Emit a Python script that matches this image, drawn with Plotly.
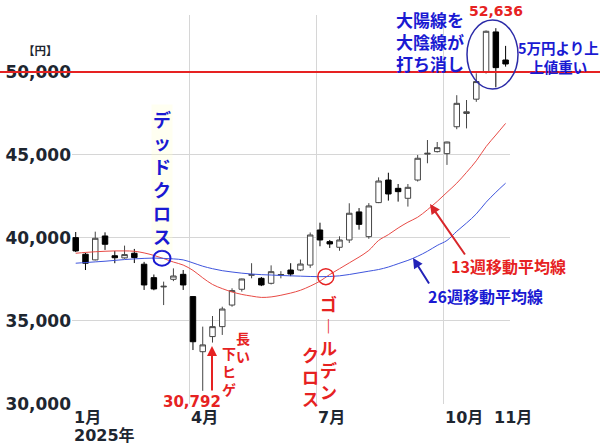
import plotly.graph_objects as go

# weekly candles (week start), 2025
weeks = [
    "01-06", "01-13", "01-20", "01-27", "02-03", "02-10", "02-17", "02-24",
    "03-03", "03-10", "03-17", "03-24", "03-31", "04-07", "04-14", "04-21",
    "04-28", "05-05", "05-12", "05-19", "05-26", "06-02", "06-09", "06-16",
    "06-23", "06-30", "07-07", "07-14", "07-21", "07-28", "08-04", "08-11",
    "08-18", "08-25", "09-01", "09-08", "09-15", "09-22", "09-29", "10-06",
    "10-13", "10-20", "10-27", "11-03", "11-10",
]
opens = [
    40020, 39020, 38680, 40120, 38930, 38800, 39080, 38420,
    37610, 37050, 37510, 37810, 36470, 33150, 34060, 34660,
    35960, 36910, 37750, 37570, 37270, 37770, 38070, 38070,
    38370, 40480, 39780, 39440, 39880, 41570, 40080, 42130,
    43490, 42990, 42390, 43490, 45050, 45200, 45080, 46700,
    47500, 48360, 50000, 52410, 50720,
]
highs = [
    40360, 39110, 40380, 40340, 39220, 39540, 39340, 38560,
    37800, 37370, 38170, 38070, 36500, 34660, 35300, 35860,
    36970, 37550, 38480, 37650, 38350, 38000, 38480, 38700,
    40330, 40920, 39880, 40100, 42090, 41800, 42100, 43650,
    43930, 43250, 43250, 45000, 45900, 45780, 45800, 48600,
    48310, 49920, 52500, 52636, 51570,
]
lows = [
    39150, 38070, 38650, 39280, 38480, 38750, 38490, 36870,
    36850, 35960, 37400, 36870, 33250, 30792, 33700, 34160,
    35860, 36770, 37570, 37100, 37200, 37570, 37700, 38000,
    38200, 39500, 39400, 39230, 39700, 40500, 39950, 42100,
    42250, 42190, 41890, 43400, 44500, 45150, 44400, 46550,
    46600, 48200, 49900, 49080, 50320,
]
closes = [
    39220, 38480, 39980, 39620, 38810, 39000, 38820, 37170,
    36930, 37090, 37710, 37170, 33750, 33560, 34660, 35720,
    36830, 37530, 37800, 37170, 37970, 37800, 37830, 38430,
    40180, 39880, 39640, 39880, 41490, 40820, 41930, 43430,
    42650, 42790, 43050, 44800, 45100, 45440, 45780, 48110,
    47600, 49420, 52450, 50260, 50480,
]
ma13 = [
    39080, 39130, 39170, 39200, 39220, 39220, 39200, 39100,
    38950, 38760, 38550, 38370, 38050, 37600, 37200, 36950,
    36750, 36600, 36500, 36420, 36450, 36550, 36680, 36850,
    37100, 37400, 37800, 38150, 38500, 38850, 39250, 39850,
    40200, 40600, 40950, 41250, 41700, 42200, 42750, 43300,
    43950, 44650, 45500, 46200, 46900,
]
ma26 = [
    38480, 38520, 38560, 38600, 38650, 38700, 38740, 38770,
    38790, 38770, 38740, 38680, 38500, 38300, 38150, 38030,
    37950, 37880, 37830, 37790, 37770, 37740, 37720, 37700,
    37680, 37670, 37680, 37720, 37800, 37900, 38000, 38100,
    38250, 38450, 38650, 38900, 39200, 39550, 39850, 40400,
    40900, 41450, 42150, 42750, 43300,
]

month_labels = ["1月", "4月", "7月", "10月", "11月"]
month_first_week = [0, 12, 25, 38, 43]
year_label = "2025年"
y_ticks = [30000, 35000, 40000, 45000, 50000]
resistance = 50000

RED = "#e62222"
BLUE = "#1a1ad2"
DARK = "#1e2630"
JP = "Noto Sans CJK JP"
NUM = "DejaVu Sans, Noto Sans CJK JP"

# plot box in page pixels: x 72..510, y 15..404
L, R, T, B = 72, 510, 15, 404


def px(x):
    return (x - L) / (R - L)


def py(y):
    return (B - y) / (B - T)


xs = list(range(len(weeks)))

fig = go.Figure()

fig.add_trace(go.Candlestick(
    x=xs, open=opens, high=highs, low=lows, close=closes,
    increasing=dict(fillcolor="white", line=dict(color="#454545", width=1)),
    decreasing=dict(fillcolor="black", line=dict(color="black", width=1)),
    whiskerwidth=0, hoverinfo="skip", showlegend=False,
))
fig.add_trace(go.Scatter(
    x=xs, y=ma13, mode="lines", line=dict(color="#e84a45", width=1, shape="spline"),
    hoverinfo="skip", showlegend=False,
))
fig.add_trace(go.Scatter(
    x=xs, y=ma26, mode="lines", line=dict(color="#3f55dd", width=1, shape="spline"),
    hoverinfo="skip", showlegend=False,
))

grid_x = [w - 0.37 for w in month_first_week[:4]]

fig.update_layout(
    width=600, height=447,
    margin=dict(l=L, r=600 - R, t=T, b=447 - B),
    paper_bgcolor="white", plot_bgcolor="white",
    boxgap=0.2,
    xaxis=dict(
        range=[-0.38, 44.45], tickvals=grid_x, showticklabels=False,
        showgrid=True, gridcolor="#d6d6d6", gridwidth=1, zeroline=False,
        rangeslider=dict(visible=False), fixedrange=True, automargin=False,
    ),
    yaxis=dict(
        range=[30000, 53430], tickvals=y_ticks, tickformat=",d",
        tickfont=dict(family="DejaVu Sans", size=17, color=DARK, weight="bold"),
        showgrid=True, gridcolor="#d6d6d6", gridwidth=1, zeroline=False,
        ticks="", fixedrange=True, automargin=False,
    ),
)


def note(x, y, text, size, color, **kw):
    # text box placed in page pixels
    opts = dict(xanchor="center", yanchor="middle", showarrow=False)
    opts.update(kw)
    fig.add_annotation(
        x=px(x), y=py(y), xref="paper", yref="paper", text=text,
        font=dict(family=JP, size=size, color=color, weight="bold"), **opts,
    )


# month labels, left aligned at gridlines
for lab, w in zip(month_labels, month_first_week):
    fig.add_annotation(
        x=w - 0.37, xref="x", y=py(417), yref="paper", text=lab,
        xanchor="left", yanchor="middle", showarrow=False,
        font=dict(family=NUM, size=16, color=DARK, weight="bold"),
    )
fig.add_annotation(
    x=month_first_week[0] - 0.37, xref="x", y=py(435), yref="paper", text=year_label,
    xanchor="left", yanchor="middle", showarrow=False,
    font=dict(family=NUM, size=16, color=DARK, weight="bold"),
)

note(40, 50, "【円】", 11.5, DARK)

# 50,000 line across the whole width
fig.add_shape(type="line", xref="paper", x0=px(0), x1=px(600), yref="y",
              y0=resistance, y1=resistance, line=dict(color=RED, width=2))

# cross markers
fig.add_shape(type="circle", xref="x", yref="y", xsizemode="pixel", ysizemode="pixel",
              xanchor=8.83, yanchor=38780, x0=-8.5, x1=8.5, y0=-7.5, y1=7.5,
              line=dict(color=BLUE, width=2))
fig.add_shape(type="circle", xref="x", yref="y", xsizemode="pixel", ysizemode="pixel",
              xanchor=25.6, yanchor=37670, x0=-8, x1=8, y0=-8, y1=8,
              line=dict(color=RED, width=1.5))

# ellipse round the last three candles
fig.add_shape(type="circle", xref="paper", yref="paper",
              x0=px(467), x1=px(518), y0=py(89), y1=py(20),
              line=dict(color="#2b2ba8", width=1.5))

note(162, 104, "デ<br>ッ<br>ド<br>ク<br>ロ<br>ス", 18, BLUE, yanchor="top",
     bgcolor="rgba(255,255,210,0.3)")
note(328, 289, "ゴ<br>︱<br>ル<br>デ<br>ン", 17, RED, yanchor="top")
note(310, 340, "ク<br>ロ<br>ス", 17, RED, yanchor="top")
note(243, 326, "長<br>い", 14, RED, yanchor="top")
note(229, 341, "下<br>ヒ<br>ゲ", 14, RED, yanchor="top")
note(212, 346, "", 10, RED, showarrow=True, ax=0, ay=46, arrowcolor=RED,
     arrowwidth=2, arrowhead=2, arrowsize=1)

lo_i = lows.index(min(lows))
hi_i = highs.index(max(highs))
fig.add_annotation(
    x=lo_i, y=lows[lo_i], xref="x", yref="y", text=f"{lows[lo_i]:,}",
    xanchor="center", yanchor="top", xshift=-11, yshift=0, showarrow=False,
    font=dict(family=NUM, size=15, color=RED, weight="bold"),
)
fig.add_annotation(
    x=hi_i, y=highs[hi_i], xref="x", yref="y", text=f"{highs[hi_i]:,}",
    xanchor="center", yanchor="bottom", yshift=7, showarrow=False,
    font=dict(family=NUM, size=14, color=RED, weight="bold"),
)

note(430, 5, "大陽線を<br>大陰線が<br>打ち消し", 17, BLUE, yanchor="top")
note(558, 35, "5万円より上<br>上値重い", 14.5, BLUE, yanchor="top")

note(508, 266, "13週移動平均線", 16, RED)
note(485, 296, "26週移動平均線", 16, BLUE)
note(430, 204, "", 10, RED, showarrow=True, ax=36, ay=52, arrowcolor="#d8262a",
     arrowwidth=2, arrowhead=2, arrowsize=1)
note(413, 258, "", 10, BLUE, showarrow=True, ax=17, ay=27, arrowcolor="#2323b8",
     arrowwidth=2, arrowhead=2, arrowsize=1)

fig.write_html("out.html", config={"displayModeBar": False},
               post_script="document.body.style.margin='0px';")
